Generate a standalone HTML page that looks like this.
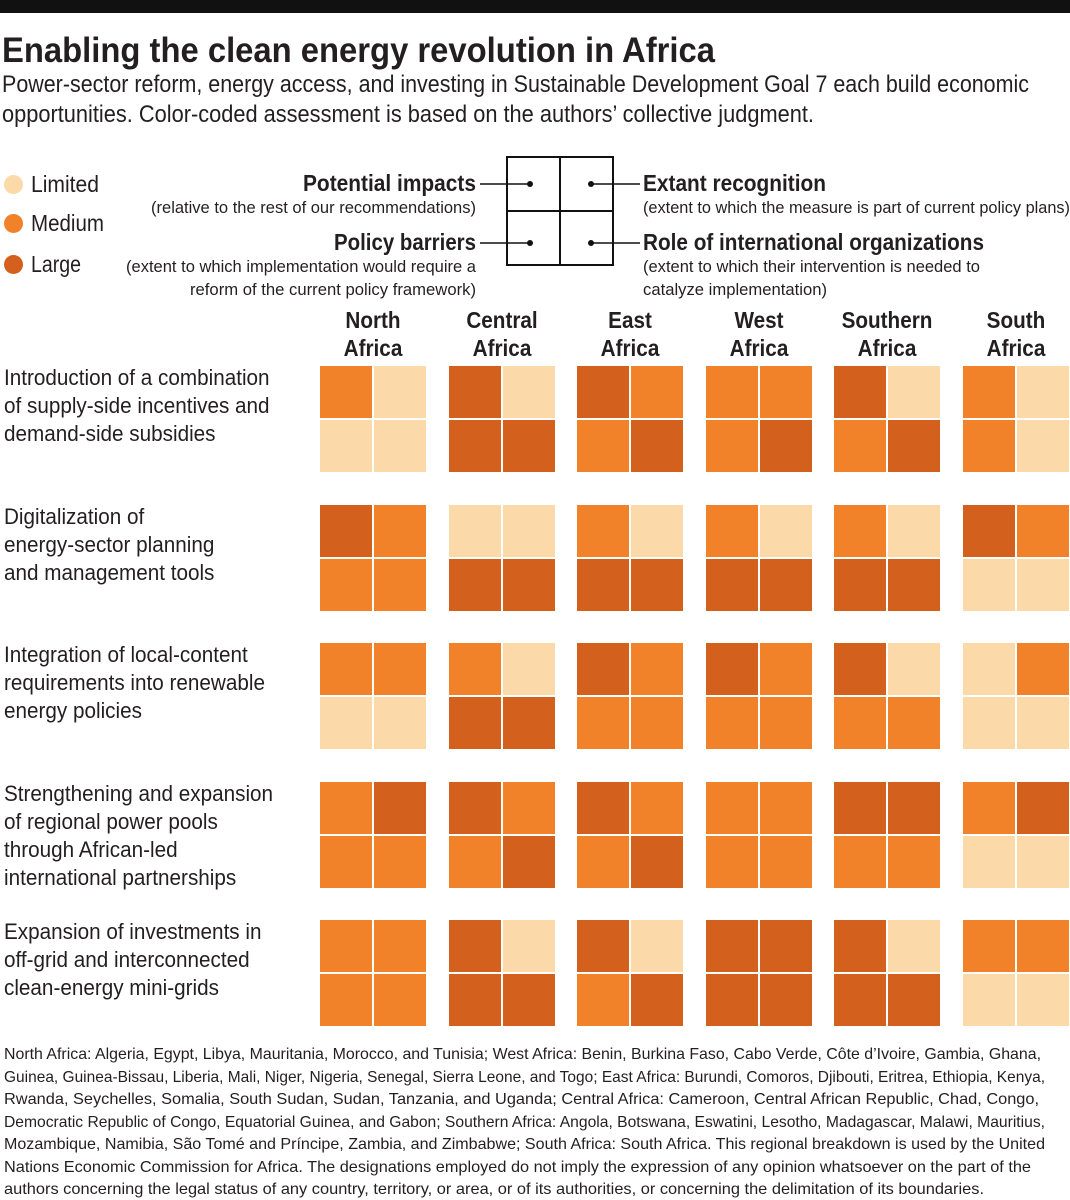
<!DOCTYPE html>
<html><head><meta charset="utf-8">
<style>
body{margin:0;background:#fff;}
#root{position:relative;width:1070px;height:1200px;overflow:hidden;font-family:"Liberation Sans Narrow","Liberation Sans",sans-serif;color:#231f20;}
.t{position:absolute;white-space:nowrap;transform-origin:0 0;line-height:1;}
.r{transform-origin:100% 0;}
.b{font-weight:bold;}
.cell{position:absolute;}
</style></head><body>
<div id="root">
<div style="position:absolute;left:0;top:0;width:1070px;height:13px;background:#111"></div>
<div class="t b fit" data-w="713" style="left:2px;top:33px;font-size:35px">Enabling the clean energy revolution in Africa</div>
<div class="t fit" data-w="1027" style="left:2px;top:73px;font-size:24px">Power-sector reform, energy access, and investing in Sustainable Development Goal 7 each build economic</div>
<div class="t fit" data-w="812" style="left:2px;top:103px;font-size:24px">opportunities. Color-coded assessment is based on the authors’ collective judgment.</div>

<div>
<div style="position:absolute;left:4px;top:175px;width:19px;height:19px;border-radius:50%;background:#fcd9a8"></div>
<div class="t fit" data-w="68" style="left:31px;top:173px;font-size:23px">Limited</div>
<div style="position:absolute;left:4px;top:214px;width:19px;height:19px;border-radius:50%;background:#f2822a"></div>
<div class="t fit" data-w="73" style="left:31px;top:212px;font-size:23px">Medium</div>
<div style="position:absolute;left:4px;top:255px;width:19px;height:19px;border-radius:50%;background:#d4601e"></div>
<div class="t fit" data-w="50" style="left:31px;top:253px;font-size:23px">Large</div>
</div>

<svg style="position:absolute;left:0;top:0" width="1070" height="300">
<rect x="507" y="157" width="106" height="108" fill="none" stroke="#111" stroke-width="2"/>
<line x1="560" y1="157" x2="560" y2="265" stroke="#111" stroke-width="2"/>
<line x1="507" y1="211" x2="613" y2="211" stroke="#111" stroke-width="2"/>
<line x1="480" y1="184" x2="530" y2="184" stroke="#111" stroke-width="1.5"/>
<line x1="480" y1="243" x2="530" y2="243" stroke="#111" stroke-width="1.5"/>
<line x1="591" y1="184" x2="640" y2="184" stroke="#111" stroke-width="1.5"/>
<line x1="591" y1="243" x2="640" y2="243" stroke="#111" stroke-width="1.5"/>
<circle cx="530" cy="184" r="3" fill="#111"/><circle cx="591" cy="184" r="3" fill="#111"/>
<circle cx="530" cy="243" r="3" fill="#111"/><circle cx="591" cy="243" r="3" fill="#111"/>
</svg>
<div class="t b fit r" data-w="173" data-right="476" style="top:172px;font-size:23px">Potential impacts</div>
<div class="t fit r" data-w="325" data-right="476" style="top:199px;font-size:17px">(relative to the rest of our recommendations)</div>
<div class="t b fit r" data-w="142" data-right="476" style="top:231px;font-size:23px">Policy barriers</div>
<div class="t fit r" data-w="350" data-right="476" style="top:258px;font-size:17px">(extent to which implementation would require a</div>
<div class="t fit r" data-w="286" data-right="476" style="top:281px;font-size:17px">reform of the current policy framework)</div>
<div class="t b fit" data-w="183" style="left:643px;top:172px;font-size:23px">Extant recognition</div>
<div class="t fit" data-w="427" style="left:643px;top:199px;font-size:17px">(extent to which the measure is part of current policy plans)</div>
<div class="t b fit" data-w="341" style="left:643px;top:231px;font-size:23px">Role of international organizations</div>
<div class="t fit" data-w="337" style="left:643px;top:258px;font-size:17px">(extent to which their intervention is needed to</div>
<div class="t fit" data-w="184" style="left:643px;top:281px;font-size:17px">catalyze implementation)</div>

<div id="grid"></div>

<div id="foot"></div>
</div>
<script>
const regions = ["North Africa","Central Africa","East Africa","West Africa","Southern Africa","South Africa"];
const measures = [
 ["Introduction of a combination","of supply-side incentives and","demand-side subsidies"],
 ["Digitalization of","energy-sector planning","and management tools"],
 ["Integration of local-content","requirements into renewable","energy policies"],
 ["Strengthening and expansion","of regional power pools","through African-led","international partnerships"],
 ["Expansion of investments in","off-grid and interconnected","clean-energy mini-grids"]
];
const levelNames = ["limited","medium","large"];
const levelColors = ["#fcd9a8","#f2822a","#d4601e"];
// each entry: [potential impacts, extant recognition, policy barriers, international orgs] ; 0=limited 1=medium 2=large
const row1 = [[1,0,0,0],[2,0,2,2],[2,1,1,2],[1,1,1,2],[2,0,1,2],[1,0,1,0]];
const row2 = [[2,1,1,1],[0,0,2,2],[1,0,2,2],[1,0,2,2],[1,0,2,2],[2,1,0,0]];
const row3 = [[1,1,0,0],[1,0,2,2],[2,1,1,1],[2,1,1,1],[2,0,1,1],[0,1,0,0]];
const row4 = [[1,2,1,1],[2,1,1,2],[2,1,1,2],[1,1,1,1],[2,2,1,1],[1,2,0,0]];
const row5 = [[1,1,1,1],[2,0,2,2],[2,0,1,2],[2,2,2,2],[2,0,2,2],[1,1,0,0]];
const values = [row1,row2,row3,row4,row5];

const grid = document.getElementById('grid');
const colX = i => 320 + i*128.6;
const rowY = j => 366 + j*138.5;
const cell = 52, gap = 2;
regions.forEach((r,i)=>{
  const parts = r.split(' ');
  parts.forEach((p,k)=>{
    const d = document.createElement('div');
    d.className='t b';
    
    
    d.style.left=(colX(i))+'px'; d.style.width='106px'; d.style.textAlign='center';
    d.style.top=(309+k*28)+'px'; d.style.fontSize='23px';
    d.style.transformOrigin='50% 0'; d.style.transform='scaleX(0.9)';
    d.textContent=p; grid.appendChild(d);
  });
});
measures.forEach((lines,j)=>{
  lines.forEach((ln,k)=>{
    const d=document.createElement('div');
    d.className='t';
    
    
    d.style.left='4px'; d.style.top=(rowY(j)+1+k*28)+'px'; d.style.fontSize='22px';
    d.style.transform='scaleX(0.94)';
    d.textContent=ln; grid.appendChild(d);
  });
  values[j].forEach((v,i)=>{
    v.forEach((lv,q)=>{
      const c=document.createElement('div');
      c.className='cell';
      
      
      c.style.left=(colX(i)+(q%2)*(cell+gap))+'px';
      c.style.top=(rowY(j)+Math.floor(q/2)*(cell+gap))+'px';
      c.style.width=cell+'px'; c.style.height=cell+'px';
      c.style.background=levelColors[lv];
      grid.appendChild(c);
    });
  });
});
const footLines = [
"North Africa: Algeria, Egypt, Libya, Mauritania, Morocco, and Tunisia; West Africa: Benin, Burkina Faso, Cabo Verde, Côte d’Ivoire, Gambia, Ghana,",
"Guinea, Guinea-Bissau, Liberia, Mali, Niger, Nigeria, Senegal, Sierra Leone, and Togo; East Africa: Burundi, Comoros, Djibouti, Eritrea, Ethiopia, Kenya,",
"Rwanda, Seychelles, Somalia, South Sudan, Sudan, Tanzania, and Uganda; Central Africa: Cameroon, Central African Republic, Chad, Congo,",
"Democratic Republic of Congo, Equatorial Guinea, and Gabon; Southern Africa: Angola, Botswana, Eswatini, Lesotho, Madagascar, Malawi, Mauritius,",
"Mozambique, Namibia, São Tomé and Príncipe, Zambia, and Zimbabwe; South Africa: South Africa. This regional breakdown is used by the United",
"Nations Economic Commission for Africa. The designations employed do not imply the expression of any opinion whatsoever on the part of the",
"authors concerning the legal status of any country, territory, or area, or of its authorities, or concerning the delimitation of its boundaries."
];
const footW=[1037,1041,1035,1041,1041,1027,980];
const foot=document.getElementById('foot');
footLines.forEach((ln,k)=>{
  const d=document.createElement('div');
  d.className='t fit';
  
  
  d.dataset.w=footW[k];
  d.style.left='4px'; d.style.top=(1047+k*22.5)+'px'; d.style.fontSize='16px';
  d.textContent=ln; foot.appendChild(d);
});
document.querySelectorAll('.fit').forEach(el=>{
  const w=+el.dataset.w; const cw=el.getBoundingClientRect().width;
  const s=w/cw;
  if(el.dataset.right){
    el.style.left=(+el.dataset.right - w)+'px';
    el.style.transformOrigin='0 0';
  }
  el.style.transform='scaleX('+s+')';
});
</script>
</body></html>
